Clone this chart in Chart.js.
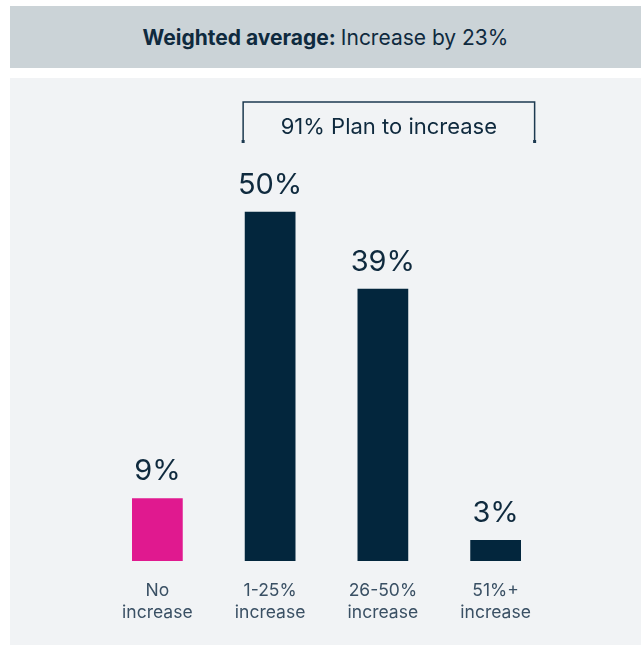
<!DOCTYPE html>
<html>
<head>
<meta charset="utf-8">
<script src="https://cdn.jsdelivr.net/npm/chart.js@4/dist/chart.umd.min.js"></script>
<style>
  html, body { margin: 0; padding: 0; background: #fff; }
  body { width: 641px; height: 645px; position: relative; overflow: hidden; font-family: Inter, sans-serif; }
  .banner {
    position: absolute; left: 10px; top: 6px; width: 631px; height: 62px;
    background: #cbd3d7; color: #0f2a3e; font-size: 21px;
    display: flex; align-items: center; justify-content: center;
  }
  .banner b { font-weight: 700; margin-right: 5px; }
  .panel { position: absolute; left: 10px; top: 78px; width: 631px; height: 567px; background: #f1f3f5; }
  #chart { position: absolute; left: 0; top: 0; }
</style>
</head>
<body>
<div class="banner"><b>Weighted average:</b> Increase by 23%</div>
<div class="panel"></div>
<canvas id="chart" width="641" height="645"></canvas>

<script>
// answer shares, in percent
const categories = [["No", "increase"], ["1-25%", "increase"], ["26-50%", "increase"], ["51%+", "increase"]];
const shares = [9, 50, 39, 3];
const barColors = ["#e0198f", "#03263d", "#03263d", "#03263d"];
const planLabel = "91% Plan to increase";
const planFrom = 1; // first category covered by the bracket
const planTo = 3;   // last category covered

const ink = "#0f2a3e";

// value label above each bar
const valueLabels = {
    id: "valueLabels",
    afterDatasetsDraw(chart) {
        const ctx = chart.ctx;
        const meta = chart.getDatasetMeta(0);
        ctx.save();
        ctx.font = "400 29px Inter";
        ctx.fillStyle = ink;
        ctx.textAlign = "center";
        ctx.textBaseline = "alphabetic";
        meta.data.forEach((bar, i) => {
            ctx.fillText(shares[i] + "%", bar.x, bar.y - 18);
        });
        ctx.restore();
    }
};

// bracket over the "increase" bars
const planBracket = {
    id: "planBracket",
    afterDraw(chart) {
        const ctx = chart.ctx;
        const x = chart.scales.x;
        const left = x.getPixelForValue(planFrom) - 27;
        const right = x.getPixelForValue(planTo) + 39;
        const bottom = chart.chartArea.top;
        const top = bottom - 40;
        ctx.save();
        ctx.strokeStyle = "#1d3a50";
        ctx.lineWidth = 1.5;
        ctx.beginPath();
        ctx.moveTo(left, bottom);
        ctx.lineTo(left, top);
        ctx.lineTo(right, top);
        ctx.lineTo(right, bottom);
        ctx.stroke();
        ctx.fillStyle = "#1d3a50";
        ctx.fillRect(left - 1.5, bottom - 2, 3, 3);
        ctx.fillRect(right - 1.5, bottom - 2, 3, 3);
        ctx.font = "400 22px Inter";
        ctx.fillStyle = ink;
        ctx.textAlign = "center";
        ctx.textBaseline = "alphabetic";
        ctx.fillText(planLabel, (left + right) / 2, top + 32);
        ctx.restore();
    }
};

new Chart(document.getElementById("chart"), {
    type: "bar",
    data: {
        labels: categories,
        datasets: [{
            data: shares,
            backgroundColor: barColors,
            borderWidth: 0,
            barPercentage: 0.45,
            categoryPercentage: 1
        }]
    },
    options: {
        responsive: false,
        animation: false,
        layout: { padding: { left: 101, right: 89, top: 142, bottom: 0 } },
        plugins: { legend: { display: false }, tooltip: { enabled: false } },
        scales: {
            x: {
                grid: { display: false, drawTicks: false },
                border: { display: false },
                ticks: {
                    color: "#3a5064",
                    font: { family: "Inter", size: 17.5, lineHeight: "22px" },
                    padding: 19,
                    maxRotation: 0
                },
                afterFit(scale) { scale.height = 84; }
            },
            y: { display: false, min: 0, max: 60 }
        }
    },
    plugins: [valueLabels, planBracket]
});
</script>
</body>
</html>
